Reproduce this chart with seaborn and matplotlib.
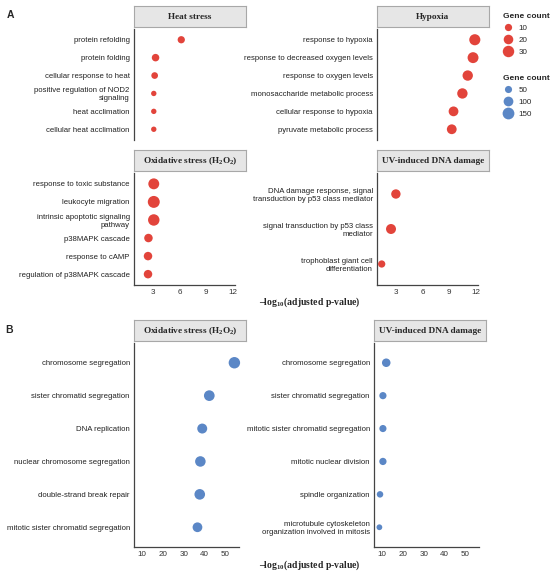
import numpy as np
import matplotlib
matplotlib.use("Agg")
import matplotlib.pyplot as plt
from matplotlib.lines import Line2D
import seaborn as sns

# ---------------- data ----------------
heat_terms = ["protein refolding", "protein folding", "cellular response to heat",
              "positive regulation of NOD2\nsignaling", "heat acclimation",
              "cellular heat acclimation"]
heat_p = [6.2, 3.3, 3.2, 3.1, 3.1, 3.1]
heat_n = [10, 11, 8, 4, 4, 4]

hyp_terms = ["response to hypoxia", "response to decreased oxygen levels",
             "response to oxygen levels", "monosaccharide metabolic process",
             "cellular response to hypoxia", "pyruvate metabolic process"]
hyp_p = [11.9, 11.7, 11.1, 10.5, 9.5, 9.3]
hyp_n = [28, 27, 24, 24, 21, 21]

ox_terms = ["response to toxic substance", "leukocyte migration",
            "intrinsic apoptotic signaling\npathway", "p38MAPK cascade",
            "response to cAMP", "regulation of p38MAPK cascade"]
ox_p = [3.1, 3.1, 3.1, 2.5, 2.45, 2.45]
ox_n = [27, 33, 30, 15, 15, 15]

uv_terms = ["DNA damage response, signal\ntransduction by p53 class mediator",
            "signal transduction by p53 class\nmediator",
            "trophoblast giant cell\ndifferentiation"]
uv_p = [3.0, 2.45, 1.4]
uv_n = [19, 22, 10]

oxB_terms = ["chromosome segregation", "sister chromatid segregation",
             "DNA replication", "nuclear chromosome segregation",
             "double-strand break repair", "mitotic sister chromatid segregation"]
oxB_p = [54.4, 42.3, 38.9, 38.0, 37.7, 36.6]
oxB_n = [141, 122, 105, 118, 120, 100]

uvB_terms = ["chromosome segregation", "sister chromatid segregation",
             "mitotic sister chromatid segregation", "mitotic nuclear division",
             "spindle organization",
             "microtubule cytoskeleton\norganization involved in mitosis"]
uvB_p = [11.9, 10.3, 10.3, 10.3, 8.9, 8.6]
uvB_n = [75, 51, 50, 52, 40, 30]

red_legend = [10, 20, 30]
blue_legend = [50, 100, 150]
ticks_A = [3, 6, 9, 12]
ticks_B = [10, 20, 30, 40, 50]

RED = "#E2443B"
BLUE = "#5B87C6"
RED_NORM, RED_SIZES = (3, 33), (13, 74)
BLUE_NORM, BLUE_SIZES = (25, 150), (15, 72)

# ---------------- style ----------------
sns.set_style("white")
plt.rcParams["font.family"] = ["Liberation Sans", "DejaVu Sans"]
plt.rcParams["mathtext.fontset"] = "custom"
plt.rcParams["mathtext.rm"] = "Liberation Serif:bold"
plt.rcParams["mathtext.bf"] = "Liberation Serif:bold"
plt.rcParams["mathtext.it"] = "Liberation Serif:bold"
SERIF = ["Liberation Serif", "DejaVu Serif"]

W, H = 550, 575
fig = plt.figure(figsize=(W / 100, H / 100), dpi=100)


def px_axes(left, top, right, bottom):
    return fig.add_axes([left / W, 1 - bottom / H, (right - left) / W, (bottom - top) / H])


def size_of(v, norm, sizes):
    return sizes[0] + (v - norm[0]) / (norm[1] - norm[0]) * (sizes[1] - sizes[0])


def panel(rect, title, terms, pvals, counts, color, norm, sizes, xlim, spine_hi, ticks, show_x):
    left, top, right, bottom = rect
    ax = px_axes(left, top, right, bottom)
    sns.scatterplot(x=pvals, y=terms, size=counts, sizes=sizes, size_norm=norm,
                    color=color, linewidth=0, legend=False, ax=ax, zorder=3)
    n = len(terms)
    ax.set_ylim(n - 0.4, -0.6)
    ax.set_xlim(*xlim)
    ax.set_xlabel("")
    ax.set_ylabel("")
    ax.set_yticks(range(n))
    ax.set_yticklabels(terms, linespacing=1.2)
    for s in ["top", "right"]:
        ax.spines[s].set_visible(False)
    ax.spines["left"].set_color("#444444")
    ax.spines["left"].set_linewidth(0.9)
    ax.tick_params(axis="y", length=2, width=0.6, color="#444444",
                   labelsize=5.6, labelcolor="#222222", pad=1)
    if show_x:
        ax.spines["bottom"].set_color("#444444")
        ax.spines["bottom"].set_linewidth(0.9)
        ax.spines["bottom"].set_bounds(xlim[0], spine_hi)
        ax.set_xticks(ticks)
        ax.tick_params(axis="x", length=2, width=0.6, color="#444444",
                       labelsize=5.8, labelcolor="#333333", pad=1)
    else:
        ax.spines["bottom"].set_visible(False)
        ax.set_xticks([])
    # facet strip
    sax = px_axes(left, top - 23, right, top - 2)
    sax.set_xticks([])
    sax.set_yticks([])
    sax.set_facecolor("#E6E6E6")
    for s in sax.spines.values():
        s.set_color("#A8A8A8")
        s.set_linewidth(0.8)
    sax.text(0.5, 0.47, title, ha="center", va="center", fontsize=6.7,
             fontweight="bold", family=SERIF, transform=sax.transAxes)
    return ax


XA = (0.87, 13.5)
XB = (6.0, 60.0)

panel((134, 29, 246, 140), "Heat stress", heat_terms, heat_p, heat_n,
      RED, RED_NORM, RED_SIZES, XA, 12.3, ticks_A, False)
panel((377, 29, 489, 140), "Hypoxia", hyp_terms, hyp_p, hyp_n,
      RED, RED_NORM, RED_SIZES, XA, 12.3, ticks_A, False)
panel((134, 173, 246, 285), "Oxidative stress (H$_2$O$_2$)", ox_terms, ox_p, ox_n,
      RED, RED_NORM, RED_SIZES, XA, 12.3, ticks_A, True)
panel((377, 173, 489, 285), "UV-induced DNA damage", uv_terms, uv_p, uv_n,
      RED, RED_NORM, RED_SIZES, XA, 12.3, ticks_A, True)
panel((134, 343, 246, 547), "Oxidative stress (H$_2$O$_2$)", oxB_terms, oxB_p, oxB_n,
      BLUE, BLUE_NORM, BLUE_SIZES, XB, 56.8, ticks_B, True)
panel((374, 343, 486, 547), "UV-induced DNA damage", uvB_terms, uvB_p, uvB_n,
      BLUE, BLUE_NORM, BLUE_SIZES, XB, 56.8, ticks_B, True)

# axis titles
xlab = "\u2013log$_{10}$(adjusted p-value)"
fig.text(310 / W, 1 - 302 / H, xlab, ha="center", va="center", fontsize=7,
         fontweight="bold", family=SERIF)
fig.text(310 / W, 1 - 565 / H, xlab, ha="center", va="center", fontsize=7,
         fontweight="bold", family=SERIF)

# panel letters
fig.text(10 / W, 1 - 15 / H, "A", ha="center", va="center", fontsize=7.5, fontweight="bold")
fig.text(9 / W, 1 - 330 / H, "B", ha="center", va="center", fontsize=7.5, fontweight="bold")

# size legends
red_handles = [Line2D([], [], marker="o", ls="", color=RED, markeredgewidth=0,
                      markersize=np.sqrt(size_of(v, RED_NORM, RED_SIZES)))
               for v in red_legend]
blue_handles = [Line2D([], [], marker="o", ls="", color=BLUE, markeredgewidth=0,
                       markersize=np.sqrt(size_of(v, BLUE_NORM, BLUE_SIZES)))
                for v in blue_legend]
leg_kw = dict(loc="upper left", frameon=False, fontsize=5.8, handletextpad=0.7,
              labelspacing=0.55, borderpad=0, borderaxespad=0, handlelength=1.2,
              title="Gene count", title_fontproperties={"weight": "bold", "size": 6},
              alignment="left")
fig.legend(red_handles, [str(v) for v in red_legend],
           bbox_to_anchor=(503 / W, 1 - 13 / H), **leg_kw)
fig.legend(blue_handles, [str(v) for v in blue_legend],
           bbox_to_anchor=(503 / W, 1 - 75 / H), **leg_kw)

fig.savefig("out.png", dpi=100)
